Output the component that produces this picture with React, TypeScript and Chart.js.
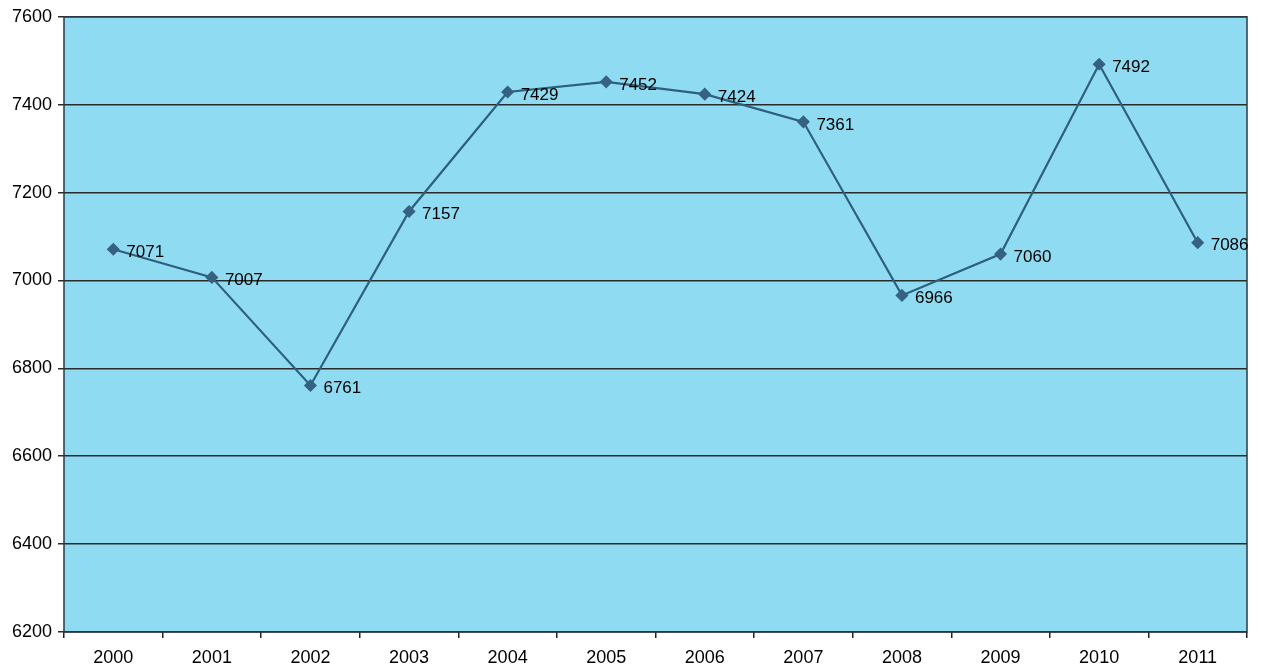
import React, { useEffect, useRef } from "react";
import { Chart, registerables } from "chart.js";

Chart.register(...registerables);

const years = ["2000", "2001", "2002", "2003", "2004", "2005", "2006", "2007", "2008", "2009", "2010", "2011"];
const values = [7071, 7007, 6761, 7157, 7429, 7452, 7424, 7361, 6966, 7060, 7492, 7086];
const yMin = 6200;
const yMax = 7600;
const yStep = 200;

const FONT = "'Liberation Sans', Arial, sans-serif";

const areaPlugin = {
  id: "areaBg",
  beforeDraw(chart: any) {
    const { ctx, chartArea } = chart;
    ctx.save();
    ctx.fillStyle = "#8fdcf2";
    ctx.fillRect(chartArea.left, chartArea.top, chartArea.right - chartArea.left, chartArea.bottom - chartArea.top);
    ctx.restore();
  },
  afterDatasetsDraw(chart: any) {
    const { ctx, chartArea } = chart;
    ctx.save();
    ctx.strokeStyle = "#2a3a44";
    ctx.lineWidth = 1.5;
    ctx.strokeRect(chartArea.left, chartArea.top, chartArea.right - chartArea.left, chartArea.bottom - chartArea.top);
    ctx.restore();
  },
};

const labelPlugin = {
  id: "pointLabels",
  afterDatasetsDraw(chart: any) {
    const { ctx } = chart;
    const meta = chart.getDatasetMeta(0);
    ctx.save();
    ctx.fillStyle = "#000";
    ctx.font = `17px ${FONT}`;
    ctx.textAlign = "left";
    ctx.textBaseline = "middle";
    meta.data.forEach((pt: any, i: number) => {
      ctx.fillText(String(values[i]), pt.x + 13, pt.y + 3);
    });
    ctx.restore();
  },
};

export default function App() {
  const ref = useRef<HTMLCanvasElement>(null);
  useEffect(() => {
    const chart = new Chart(ref.current!, {
      type: "line",
      data: {
        labels: years,
        datasets: [
          {
            data: values,
            borderColor: "#2e5f7c",
            backgroundColor: "#2e5f7c",
            borderWidth: 2.2,
            pointStyle: "rectRot",
            pointRadius: 5,
            pointBackgroundColor: "#35627f",
            pointBorderColor: "#35627f",
            tension: 0,
          },
        ],
      },
      options: {
        animation: false,
        responsive: false,
        maintainAspectRatio: false,
        layout: { padding: { top: 15, right: 14, left: 0, bottom: 0 } },
        plugins: { legend: { display: false }, tooltip: { enabled: false } },
        scales: {
          x: {
            type: "category",
            offset: true,
            grid: { drawOnChartArea: false, offset: true, drawTicks: true, tickLength: 6, color: "#222", lineWidth: 1.5 },
            border: { display: false },
            ticks: { color: "#000", font: { family: FONT, size: 18 }, padding: 9, maxRotation: 0 },
            afterFit(scale: any) {
              scale.height = 35;
            },
          },
          y: {
            min: yMin,
            max: yMax,
            grid: { color: "#2a2a2a", lineWidth: 1.5, drawTicks: true, tickLength: 6 },
            border: { display: false },
            ticks: {
              stepSize: yStep,
              color: "#000",
              font: { family: FONT, size: 18 },
              padding: 6,
              callback: (v: any) => String(v),
            },
            afterFit(scale: any) {
              scale.width = 64;
            },
          },
        },
      },
      plugins: [areaPlugin, labelPlugin],
    });
    return () => chart.destroy();
  }, []);
  return (
    <div style={{ position: "fixed", left: 0, top: 0, width: 1261, height: 667, background: "#fff" }}>
      <canvas ref={ref} width={1261} height={667} style={{ width: 1261, height: 667 }} />
    </div>
  );
}
